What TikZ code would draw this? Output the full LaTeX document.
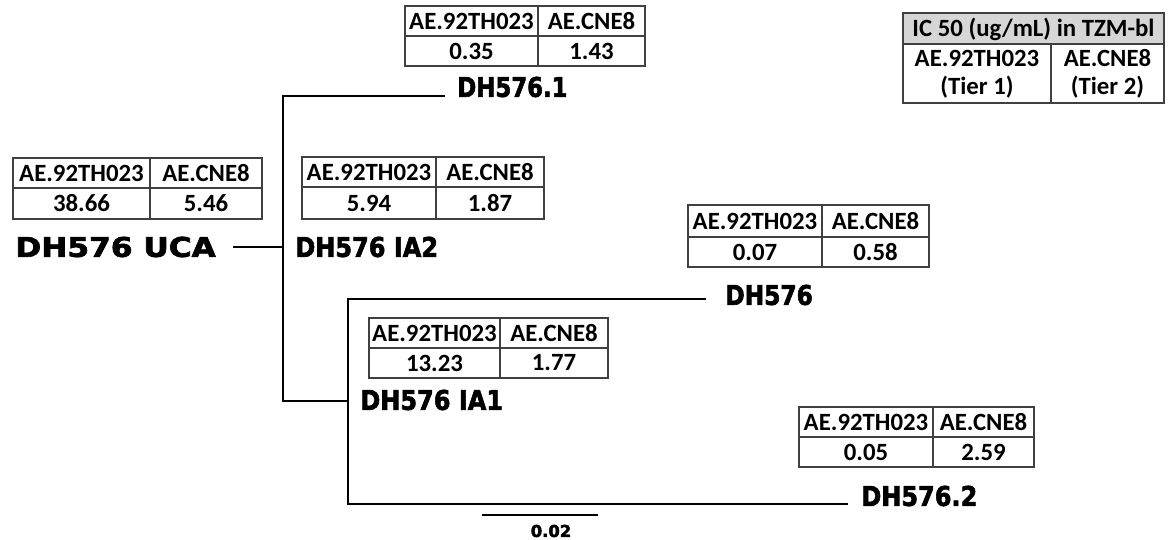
\documentclass[tikz,border=0pt]{standalone}
\usepackage{fontspec}
\setmainfont{Carlito}[BoldFont=* Bold]
\newfontfamily\lbl{DejaVu Sans Bold}[FakeBold=2.4]
\newcommand\lt[2]{\scalebox{#1}[1.13]{#2}}
\newcommand\ictab[9]{%
  \draw[tab] (#2,#5) rectangle (#4,#7);
  \draw[tab] (#2,#6) -- (#4,#6) (#3,#5) -- (#3,#7);
  \node[cell] (#1ha) at ({(#2+#3)/2},{(#5+#6)/2}) {AE.92TH023};
  \node[cell] (#1hb) at ({(#3+#4)/2},{(#5+#6)/2}) {AE.CNE8};
  \node[cell] (#1va) at ({(#2+#3)/2},{(#6+#7)/2}) {#8};
  \node[cell] (#1vb) at ({(#3+#4)/2},{(#6+#7)/2}) {#9};
}
\begin{document}
\begin{tikzpicture}[x=0.5pt,y=-0.5pt,
  tab/.style={line width=0.55pt,draw=black!75},
  br/.style={line width=0.75pt,black},
  cell/.style={inner sep=0pt,font=\fontsize{12.4}{14}\selectfont\bfseries},
  lab/.style={inner sep=0pt,anchor=west,font=\fontsize{12}{14}\lbl},
  hdr/.style={fill=black!16,draw=black!75,line width=0.55pt}]
\useasboundingbox (0,0) rectangle (1168,540);
% tables
\ictab{top}{405}{538}{645}{6}{36}{66}{0.35}{1.43}
\ictab{uca}{13}{150}{262}{158}{188}{219}{38.66}{5.46}
\ictab{iaa}{302}{436}{544}{157}{187}{219}{5.94}{1.87}
\ictab{dhz}{688}{822}{929}{205}{237}{267}{0.07}{0.58}
\ictab{iab}{369}{500}{608}{318}{348}{378}{13.23}{1.77}
\ictab{dht}{799}{933}{1034}{407}{437}{467}{0.05}{2.59}
% legend
\draw[hdr] (903,13) rectangle (1164,44);
\draw[tab] (903,44) rectangle (1164,103) (1051,44) -- (1051,103);
\node[cell] (legh) at (1033.5,29) {IC 50 (ug/mL) in TZM-bl};
\node[cell,align=center] (lega) at (977,74) {AE.92TH023\\(Tier 1)};
\node[cell,align=center] (legb) at (1107.5,74) {AE.CNE8\\(Tier 2)};
% tree coordinates
\coordinate (j0) at (233,247);
\coordinate (j1) at (283,247);
\coordinate (v1top) at (283,96);
\coordinate (v1bot) at (283,401);
\coordinate (t1) at (445,96);
\coordinate (j2) at (348,401);
\coordinate (v2top) at (348,299);
\coordinate (v2bot) at (348,504);
\coordinate (t3) at (706,299);
\coordinate (t4) at (848,504);
\coordinate (s1) at (482,515);
\coordinate (s2) at (598,515);
% branches
\draw[br] (j0) -- (j1);
\draw[br] (t1) -- (v1top) -- (v1bot) -- (j2);
\draw[br] (t3) -- (v2top) -- (v2bot) -- (t4);
\draw[br] (s1) -- (s2);
% labels
\node[lab] (nuca) at (15,247) {\lt{1.3}{DH576 UCA}};
\node[lab] (nia2) at (295,247) {\lt{1}{DH576 IA2}};
\node[lab] (nd1) at (457,87) {\lt{0.95}{DH576.1}};
\node[lab] (nd) at (725,295) {\lt{0.97}{DH576}};
\node[lab] (nia1) at (360,400) {\lt{1}{DH576 IA1}};
\node[lab] (nd2) at (861,496) {\lt{1}{DH576.2}};
\node[inner sep=0pt,font=\fontsize{8.2}{9}\lbl] (scl) at (551,531) {0.02};
\end{tikzpicture}
\end{document}
